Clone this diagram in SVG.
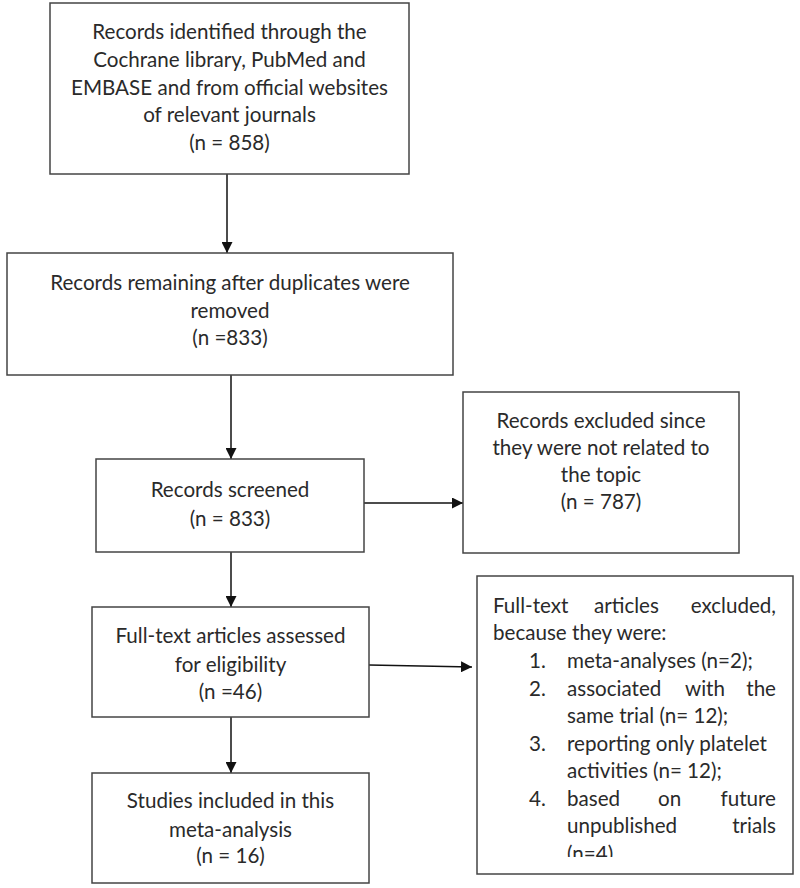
<svg xmlns="http://www.w3.org/2000/svg" width="800" height="888" viewBox="0 0 800 888">
<defs>
<style>
.box{fill:#fff;stroke:#444;stroke-width:1.5}
.t{font-family:Lato,"Liberation Sans",sans-serif;font-size:20.6px;fill:#2a2a2a}
.c{text-anchor:middle}
.e{text-anchor:end}
.ln{stroke:#111;stroke-width:1.5;fill:none}
</style>
<marker id="ah" viewBox="0 0 10 10" refX="10" refY="5" markerWidth="11" markerHeight="11" markerUnits="userSpaceOnUse" orient="auto">
<path d="M0,0 L10,5 L0,10 Z" fill="#111"/>
</marker>
<clipPath id="clip7"><rect x="477" y="576" width="316" height="281"/></clipPath>
</defs>
<rect width="800" height="888" fill="#fff"/>
<g id="connectors">
<line class="ln" x1="227" y1="174" x2="227" y2="253" marker-end="url(#ah)"/>
<line class="ln" x1="231" y1="375" x2="231" y2="459" marker-end="url(#ah)"/>
<line class="ln" x1="364" y1="503" x2="463" y2="503" marker-end="url(#ah)"/>
<line class="ln" x1="231" y1="552" x2="231" y2="607" marker-end="url(#ah)"/>
<line class="ln" x1="369" y1="665" x2="472" y2="667" marker-end="url(#ah)"/>
<line class="ln" x1="231" y1="717" x2="231" y2="773" marker-end="url(#ah)"/>
</g>
<g id="identified">
<rect class="box" x="50" y="3" width="359" height="171"/>
<text class="t c" x="229.5" y="39">Records identified through the</text>
<text class="t c" x="229.5" y="67">Cochrane library, PubMed and</text>
<text class="t c" x="229.5" y="95">EMBASE and from official websites</text>
<text class="t c" x="229.5" y="122">of relevant journals</text>
<text class="t c" x="229.5" y="150">(n = 858)</text>
</g>
<g id="remaining">
<rect class="box" x="7" y="253" width="446" height="122"/>
<text class="t c" x="230" y="290">Records remaining after duplicates were</text>
<text class="t c" x="230" y="318">removed</text>
<text class="t c" x="230" y="345">(n =833)</text>
</g>
<g id="screened">
<rect class="box" x="96" y="459" width="268" height="93"/>
<text class="t c" x="230" y="497">Records screened</text>
<text class="t c" x="230" y="526">(n = 833)</text>
</g>
<g id="excluded">
<rect class="box" x="463" y="392" width="276" height="161"/>
<text class="t c" x="601" y="428">Records excluded since</text>
<text class="t c" x="601" y="455">they were not related to</text>
<text class="t c" x="601" y="482">the topic</text>
<text class="t c" x="601" y="509">(n = 787)</text>
</g>
<g id="assessed">
<rect class="box" x="92" y="607" width="277" height="110"/>
<text class="t c" x="230.5" y="643">Full-text articles assessed</text>
<text class="t c" x="230.5" y="672">for eligibility</text>
<text class="t c" x="230.5" y="699">(n =46)</text>
</g>
<g id="included">
<rect class="box" x="92" y="773" width="277" height="110"/>
<text class="t c" x="230.5" y="808">Studies included in this</text>
<text class="t c" x="230.5" y="837">meta-analysis</text>
<text class="t c" x="230.5" y="863">(n = 16)</text>
</g>
<g id="fulltext-excluded">
<rect class="box" x="477" y="576" width="316" height="298"/>
<g clip-path="url(#clip7)">
<text class="t" x="493" y="613">Full-text</text>
<text class="t" x="594" y="613">articles</text>
<text class="t e" x="776" y="613">excluded,</text>
<text class="t" x="493" y="640">because they were:</text>
<text class="t" x="529" y="668">1.</text>
<text class="t" x="567" y="668">meta-analyses (n=2);</text>
<text class="t" x="529" y="696">2.</text>
<text class="t" x="567" y="696">associated</text>
<text class="t" x="685" y="696">with</text>
<text class="t e" x="776" y="696">the</text>
<text class="t" x="567" y="723">same trial (n= 12);</text>
<text class="t" x="529" y="751">3.</text>
<text class="t" x="567" y="751">reporting only platelet</text>
<text class="t" x="567" y="778">activities (n= 12);</text>
<text class="t" x="529" y="806">4.</text>
<text class="t" x="567" y="806">based</text>
<text class="t" x="658" y="806">on</text>
<text class="t e" x="776" y="806">future</text>
<text class="t" x="567" y="833">unpublished</text>
<text class="t e" x="776" y="833">trials</text>
<text class="t" x="567" y="861">(n=4)</text>
</g>
</g>
</svg>
